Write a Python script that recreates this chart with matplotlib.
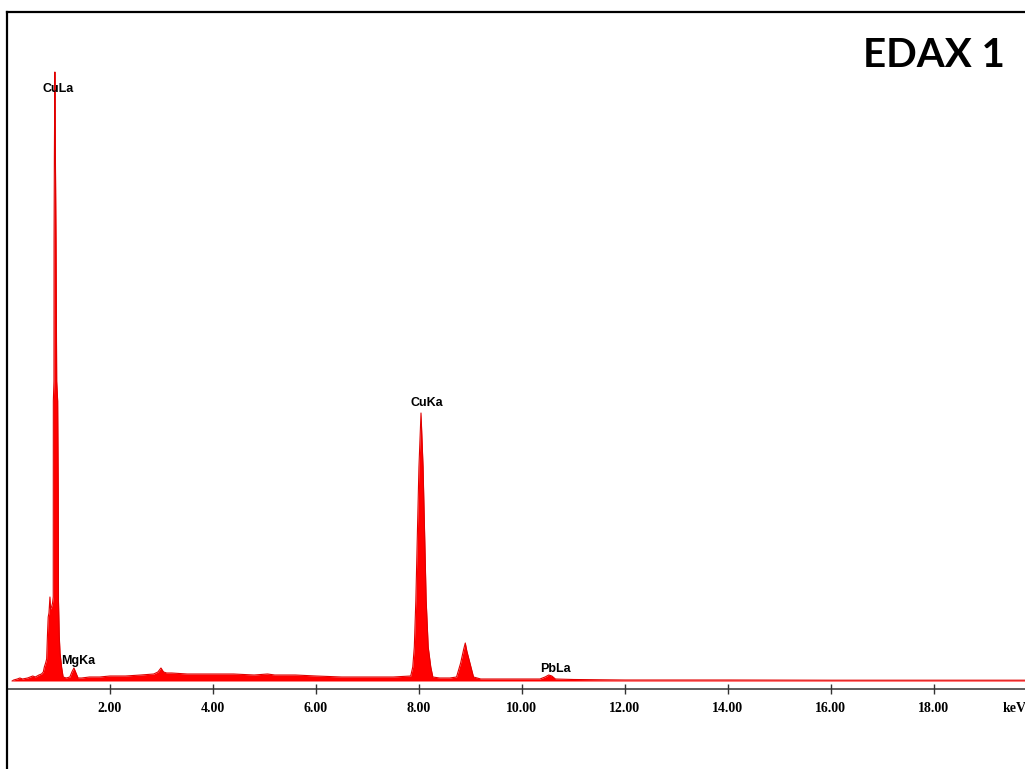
import numpy as np
import matplotlib.pyplot as plt
from matplotlib.lines import Line2D

# spectrum outline (energy in keV, counts in arbitrary units)
energy = [0.10, 0.13, 0.20, 0.25, 0.30, 0.40, 0.50, 0.55, 0.62, 0.67,
          0.705, 0.725, 0.75, 0.77, 0.785, 0.80, 0.815, 0.834, 0.845, 0.865,
          0.885, 0.898, 0.900, 0.912, 0.914, 0.920, 0.930, 0.940, 0.952, 0.965,
          0.984, 0.995, 1.000, 1.015, 1.030, 1.060, 1.090, 1.15, 1.22, 1.26,
          1.30, 1.34, 1.38, 1.45, 1.60, 1.80, 2.00, 2.30, 2.60, 2.85,
          2.93, 2.99, 3.04, 3.10, 3.20, 3.50, 4.00, 4.40, 4.80, 5.06,
          5.20, 5.60, 6.00, 6.50, 7.00, 7.50, 7.84, 7.88, 7.91, 7.94,
          7.97, 8.00, 8.04, 8.08, 8.11, 8.14, 8.18, 8.23, 8.27, 8.40,
          8.60, 8.73, 8.81, 8.87, 8.90, 8.93, 8.99, 9.06, 9.20, 9.60,
          10.00, 10.35, 10.45, 10.52, 10.58, 10.65, 11.00, 12.00, 14.00, 16.00,
          18.00, 19.77]
counts = [0, 1, 2, 3, 2, 3, 5, 4, 6, 7,
          9, 14, 18, 22, 45, 64, 68, 84, 72, 74,
          78, 84, 280, 300, 440, 525, 609, 525, 440, 300,
          280, 190, 80, 45, 28, 14, 4, 3, 4, 9,
          13, 8, 3, 3, 4, 4, 5, 5, 6, 7,
          9, 13, 9, 8, 8, 7, 7, 7, 6, 7,
          6, 6, 5, 4, 4, 4, 5, 14, 34, 81,
          148, 214, 268, 214, 148, 81, 34, 14, 4, 3,
          3, 4, 18, 32, 38, 30, 18, 4, 2, 2,
          2, 2, 4, 6, 5, 2, 1.5, 1, 1, 0.8,
          0.8, 0.8]

tick_keV = [2, 4, 6, 8, 10, 12, 14, 16, 18]
tick_text = ["2.00", "4.00", "6.00", "8.00", "10.00", "12.00", "14.00", "16.00", "18.00"]

peak_names = ["CuLa", "MgKa", "CuKa", "PbLa"]
peak_x = [1.00, 1.385, 8.145, 10.66]
peak_y = [589, 17, 275, 9]

W = 1025.; H = 769.
fig = plt.figure(figsize=(W/100, H/100), dpi=100)
ax = fig.add_axes([7/W, 1-689/H, 1-7/W, (689-11.5)/H])

ax.fill_between(energy, counts, 0, color="#ff0000", lw=0)
ax.plot(energy, counts, color="#e00000", lw=0.8)
ax.set_xlim(0, 19.77); ax.set_ylim(-8, 669.5)

for s in ["left", "right"]:
    ax.spines[s].set_visible(False)
ax.spines["top"].set_linewidth(1.6); ax.spines["top"].set_color("black")
ax.spines["bottom"].set_linewidth(1.1); ax.spines["bottom"].set_color("#333333")
ax.set_yticks([])
ax.set_xticks(tick_keV)
ax.set_xticklabels(tick_text, fontfamily="Liberation Serif", fontweight="bold", fontsize=10)
ax.tick_params(axis="x", direction="inout", length=7, width=1, color="#333333", pad=6)

# peak labels
for name, px, py in zip(peak_names, peak_x, peak_y):
    ax.text(px, py, name, ha="center", va="baseline", fontsize=9,
            fontfamily="Liberation Sans", fontweight="bold")

fig.text(1003/W, 1-712/H, "keV", ha="left", va="baseline", fontsize=10,
         fontfamily="Liberation Serif", fontweight="bold")
fig.text(933.5/W, 1-67/H, "EDAX 1", ha="center", va="baseline", fontsize=29,
         fontfamily="Lato", fontweight="bold")

# left frame line runs to the bottom of the image
fig.add_artist(Line2D([7/W, 7/W], [0, 1-11.5/H], color="black", lw=1.6,
                      transform=fig.transFigure))

plt.savefig("out.png", dpi=100)
